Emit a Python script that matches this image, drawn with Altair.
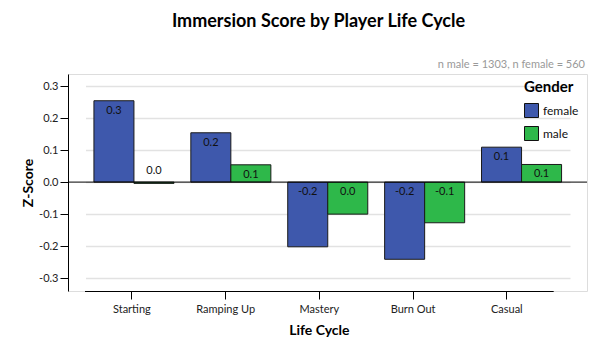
import altair as alt
import pandas as pd

cycles = ["Starting", "Ramping Up", "Mastery", "Burn Out", "Casual"]
genders = ["female", "male"]
female_vals = [0.254, 0.154, -0.202, -0.241, 0.109]
male_vals = [-0.004, 0.054, -0.100, -0.127, 0.055]
female_labels = ["0.3", "0.2", "-0.2", "-0.2", "0.1"]
male_labels = ["0.0", "0.1", "0.0", "-0.1", "0.1"]
y_ticks = [-0.3, -0.2, -0.1, 0.0, 0.1, 0.2, 0.3]
note = "n male = 1303, n female = 560"
colors = ["#3E58AC", "#2EB84A"]

rows = []
for i, c in enumerate(cycles):
    rows.append({"cycle": c, "gender": "female", "z": female_vals[i], "label": female_labels[i]})
    rows.append({"cycle": c, "gender": "male", "z": male_vals[i], "label": male_labels[i]})
df = pd.DataFrame(rows)
df["top"] = df["z"].clip(lower=0)
df["small"] = df["z"].abs() < 0.02

FONT = "Lato"
W, H = 519, 217

bar_x = alt.X("cycle:N", sort=cycles, axis=None,
              scale=alt.Scale(domain=cycles, range=[17.5, 502], paddingInner=0.174, paddingOuter=0.087))
xoff = alt.XOffset("gender:N", sort=genders, scale=alt.Scale(domain=genders, paddingInner=0, paddingOuter=0))
yscale = alt.Scale(domain=[-0.34, 0.3375], nice=False, zero=False)
y_axis = alt.Axis(values=y_ticks, grid=True, gridColor="#e2e2e2", gridWidth=1.5,
                  labelOverlap=False, labelFlush=False,
                  domainColor="black", tickColor="black", tickSize=8,
                  labelExpr="datum.value < -0.0001 ? '-' + format(-datum.value, '.1f') : format(abs(datum.value), '.1f')",
                  labelFont=FONT, labelFontSize=11, labelColor="#222", labelPadding=2,
                  titleFont=FONT, titleFontSize=14, titleFontWeight="bold", titleColor="black",
                  titlePadding=3)

base = alt.Chart(df)

bars = base.mark_bar(stroke="#1a1a1a", strokeWidth=1).encode(
    x=bar_x,
    xOffset=xoff,
    y=alt.Y("z:Q", scale=yscale, title="Z-Score", axis=y_axis),
    y2=alt.datum(0),
    color=alt.Color("gender:N", sort=genders, scale=alt.Scale(domain=genders, range=colors),
                    legend=alt.Legend(title="Gender", orient="none", legendX=456, legendY=6,
                                      symbolType="square", symbolSize=196, symbolStrokeColor="#111",
                                      symbolStrokeWidth=1, symbolOpacity=1,
                                      titleFont=FONT, titleFontSize=15, titleFontWeight="bold",
                                      titleColor="black", titlePadding=8,
                                      labelFont=FONT, labelFontSize=12, labelColor="#111",
                                      labelOffset=4, rowPadding=4, padding=0)),
)

labels_in = base.transform_filter("!datum.small").mark_text(
    font=FONT, fontSize=11, baseline="middle", dy=10, color="#111").encode(
    x=bar_x, xOffset=xoff, y=alt.Y("top:Q", scale=yscale, title="Z-Score", axis=y_axis), text="label:N")

labels_out = base.transform_filter("datum.small").mark_text(
    font=FONT, fontSize=11, baseline="middle", dy=-11, color="#111").encode(
    x=bar_x, xOffset=xoff, y=alt.Y("top:Q", scale=yscale, title="Z-Score", axis=y_axis), text="label:N")

zero = alt.Chart(pd.DataFrame({"z": [0.0]})).mark_rule(color="black", strokeWidth=1).encode(
    y=alt.Y("z:Q", scale=yscale, title="Z-Score", axis=y_axis))

axis_layer = alt.Chart(pd.DataFrame({"cycle": cycles, "z": [0.0] * len(cycles)})).mark_point(opacity=0).encode(
    x=alt.X("cycle:N", sort=cycles, title="Life Cycle",
            scale=alt.Scale(domain=cycles, range=[16.5, 485.2], paddingInner=0.16, paddingOuter=0.08),
            axis=alt.Axis(orient="bottom", labelAngle=0, domain=True, domainColor="black",
                          tickColor="black", tickSize=8, labelPadding=4,
                          labelFont=FONT, labelFontSize=11, labelColor="#222",
                          titleFont=FONT, titleFontSize=14, titleFontWeight="bold",
                          titleColor="black", titlePadding=9)),
    y=alt.Y("z:Q", scale=yscale, title="Z-Score", axis=y_axis))

note_layer = alt.Chart(pd.DataFrame({"t": [note]})).mark_text(
    font=FONT, fontSize=11, color="#999", align="right", baseline="middle").encode(
    x=alt.value(517), y=alt.value(-9), text="t:N")

chart = alt.layer(bars, labels_in, labels_out, zero, axis_layer, note_layer).resolve_scale(
    x="independent"
).properties(
    width=W, height=H,
    padding={"left": 68, "top": 74, "right": 13, "bottom": 59},
    autosize=alt.AutoSizeParams(type="none"),
    title=alt.TitleParams("Immersion Score by Player Life Cycle", font=FONT, fontSize=18,
                          fontWeight="bold", color="black", anchor="middle", dx=-9,
                          frame="group", baseline="bottom", offset=10),
).configure_view(
    fill="#f0f0f0", stroke="#7a7a7a", strokeWidth=2
).configure(background="white")

chart.save("out.html", embed_options={"renderer": "svg", "actions": False})
